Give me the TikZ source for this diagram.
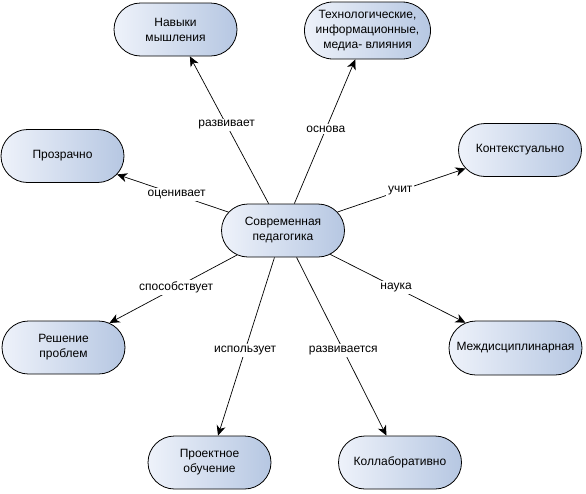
\documentclass[tikz,border=0pt]{standalone}
\usepackage{fontspec}
\setmainfont{Liberation Sans}
\usetikzlibrary{shapes.misc,arrows.meta}
\definecolor{conceitoA}{RGB}{238,242,250}
\definecolor{conceitoB}{RGB}{182,199,226}

\begin{document}
\begin{tikzpicture}[x=1pt,y=-1pt,
		conceito/.style={rounded rectangle, draw, line width=0.8pt, minimum width=127pt, minimum height=53pt,
			inner sep=2pt, align=center, left color=conceitoA, right color=conceitoB, font=\fontsize{12}{15}\selectfont},
		rotulo/.style={fill=white, inner sep=2pt, font=\fontsize{12}{15}\selectfont},
		seta/.style={-{Stealth[length=10pt,width=9pt,inset=3pt]}, line width=0.7pt}]
		\useasboundingbox (0,0) rectangle (586,493);

		% Conceitos
		\node[conceito] (ped)    at (283,230.5)   {Современная\\педагогика};
		\node[conceito] (nav)    at (175.5,29.5)  {Навыки\\мышления};
		\node[conceito, minimum width=130pt, minimum height=57pt] (tech) at (367.5,30.5) {Технологические,\\информационные,\\медиа- влияния};
		\node[conceito] (proz)   at (62.5,156)    {Прозрачно};
		\node[conceito] (kont)   at (520,150)     {Контекстуально};
		\node[conceito] (resh)   at (63.5,347.5)  {Решение\\проблем};
		\node[conceito, minimum width=137pt, minimum height=54pt] (mezh) at (515.5,348) {Междисциплинарная};
		\node[conceito] (proekt) at (209.5,462.5) {Проектное\\обучение};
		\node[conceito] (koll)   at (400,462.5)   {Коллаборативно};

		% Setas
		\draw[seta] (ped) -- node[rotulo, pos=0.534] {развивает}    (nav);
		\draw[seta] (ped) -- node[rotulo, pos=0.517] {основа}       (tech);
		\draw[seta] (ped) -- node[rotulo, pos=0.465] {оценивает}    (proz);
		\draw[seta] (ped) -- node[rotulo, pos=0.49]  {учит}         (kont);
		\draw[seta] (ped) -- node[rotulo, pos=0.478] {способствует} (resh);
		\draw[seta] (ped) -- node[rotulo, pos=0.487] {наука}        (mezh);
		\draw[seta] (ped) -- node[rotulo, pos=0.52]  {использует}   (proekt);
		\draw[seta] (ped) -- node[rotulo, pos=0.52]  {развивается}  (koll);
	\end{tikzpicture}
\end{document}
